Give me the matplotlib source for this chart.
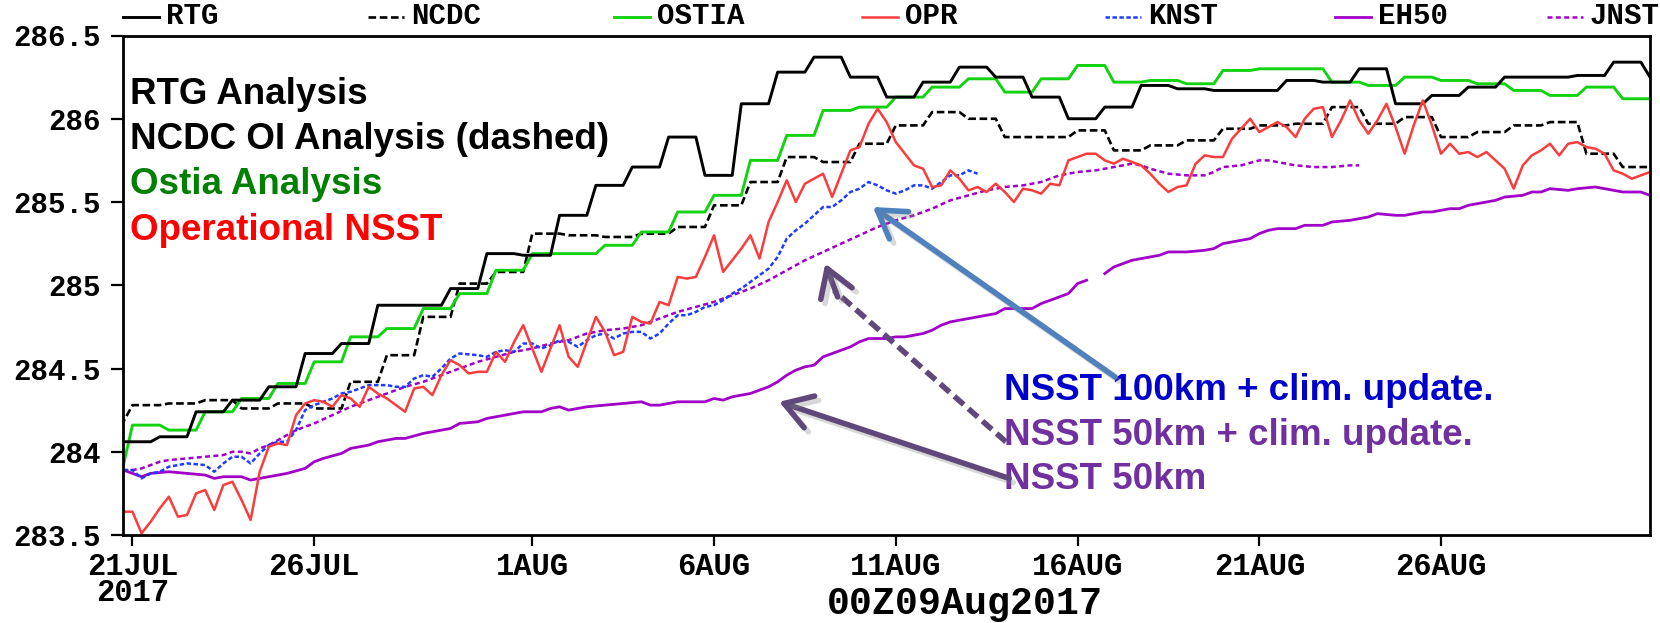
import numpy as np
import matplotlib
matplotlib.use("Agg")
import matplotlib.pyplot as plt
from matplotlib.lines import Line2D
import matplotlib.patheffects as pe

plt.rcParams["lines.scale_dashes"] = False

# ---- time axis: days since 21 Jul 2017 00Z (6-hourly output) ----
tick_days = [0, 5, 11, 16, 21, 26, 31, 36]
tick_labels = ["21JUL\n2017", "26JUL", "1AUG", "6AUG", "11AUG", "16AUG", "21AUG", "26AUG"]
y_ticks = [283.5, 284.0, 284.5, 285.0, 285.5, 286.0, 286.5]
y_tick_labels = ["283.5", "284", "284.5", "285", "285.5", "286", "286.5"]
valid_time = "00Z09Aug2017"

# ---- daily analyses (K) ----
rtg_days = np.arange(0, 43)
rtg = [284.06, 284.09, 284.24, 284.31, 284.39, 284.59, 284.65, 284.88, 284.88, 284.98,
       285.19, 285.18, 285.42, 285.60, 285.71, 285.89, 285.66, 286.09, 286.28, 286.37,
       286.25, 286.13, 286.22, 286.31, 286.25, 286.13, 286.00, 286.07, 286.20, 286.18,
       286.17, 286.17, 286.23, 286.22, 286.30, 286.09, 286.14, 286.19, 286.25, 286.25,
       286.26, 286.34, 286.25]

ncdc_days = np.arange(-1, 42)
ncdc = [284.18, 284.28, 284.29, 284.31, 284.26, 284.29, 284.26, 284.42, 284.58, 284.81,
        285.01, 285.08, 285.31, 285.30, 285.29, 285.31, 285.35, 285.48, 285.62, 285.77,
        285.74, 285.85, 285.96, 286.04, 286.00, 285.89, 285.89, 285.93, 285.81, 285.84,
        285.87, 285.94, 285.96, 285.97, 286.07, 285.97, 286.01, 285.89, 285.92, 285.96,
        285.98, 285.79, 285.71]

ostia_days = np.arange(-1, 42)
ostia = [283.92, 284.16, 284.13, 284.24, 284.32, 284.41, 284.54, 284.69, 284.74, 284.86,
         284.95, 285.09, 285.19, 285.19, 285.24, 285.32, 285.44, 285.54, 285.75, 285.90,
         286.05, 286.07, 286.13, 286.19, 286.24, 286.16, 286.24, 286.32, 286.22, 286.23,
         286.21, 286.29, 286.30, 286.30, 286.22, 286.20, 286.25, 286.23, 286.21, 286.17,
         286.14, 286.19, 286.12]

# ---- operational NSST, 6-hourly from 20 Jul 18Z ----
opr = [283.64, 283.64, 283.51, 283.58, 283.66, 283.73, 283.61, 283.62, 283.75, 283.77,
       283.65, 283.80, 283.82, 283.71, 283.59, 283.88, 284.03, 284.05, 284.04, 284.22,
       284.29, 284.31, 284.30, 284.27, 284.34, 284.32, 284.27, 284.39, 284.35, 284.32,
       284.28, 284.24, 284.38, 284.39, 284.34, 284.46, 284.55, 284.52, 284.47, 284.48,
       284.48, 284.60, 284.54, 284.66, 284.76, 284.62, 284.48, 284.62, 284.76, 284.57,
       284.51, 284.66, 284.81, 284.72, 284.58, 284.60, 284.81, 284.78, 284.77, 284.90,
       284.88, 285.05, 285.04, 285.05, 285.17, 285.30, 285.08, 285.15, 285.22, 285.30,
       285.16, 285.38, 285.50, 285.63, 285.50, 285.61, 285.64, 285.67, 285.53, 285.67,
       285.81, 285.83, 285.97, 286.06, 285.98, 285.86, 285.79, 285.72, 285.70, 285.59,
       285.60, 285.69, 285.64, 285.57, 285.59, 285.56, 285.61, 285.56, 285.50, 285.58,
       285.57, 285.55, 285.61, 285.60, 285.75, 285.77, 285.79, 285.79, 285.75, 285.73,
       285.76, 285.74, 285.72, 285.67, 285.61, 285.56, 285.59, 285.60, 285.73, 285.78,
       285.77, 285.77, 285.88, 285.94, 286.00, 285.92, 285.95, 285.98, 285.95, 285.89,
       286.00, 286.06, 286.07, 285.89, 285.99, 286.11, 285.99, 285.91, 285.99, 286.09,
       285.95, 285.79, 285.96, 286.11, 285.96, 285.79, 285.85, 285.79, 285.80, 285.77,
       285.80, 285.75, 285.70, 285.58, 285.72, 285.78, 285.81, 285.85, 285.78, 285.85,
       285.86, 285.83, 285.82, 285.79, 285.69, 285.67, 285.64, 285.66, 285.68]
opr_start = -0.25

# ---- NSST 100km + clim. update ----
knst_t = [-0.25, 0.0, 0.25, 0.5, 0.75, 1.0, 1.5, 2.0, 2.25, 2.5, 2.75, 3.0, 3.25, 3.5,
          3.75, 4.0, 4.25, 4.5, 4.75, 5.0, 5.25, 5.5, 5.75, 6.0, 6.5, 7.0, 7.25, 7.5,
          7.75, 8.0, 8.25, 8.5, 8.75, 9.0, 9.5, 9.75, 10.0, 10.25, 10.5, 10.75, 11.0,
          11.25, 11.5, 11.75, 12.0, 12.25, 12.5, 12.75, 13.0, 13.25, 13.5, 13.75, 14.0,
          14.25, 14.5, 14.75, 15.0, 15.25, 15.5, 15.75, 16.0, 16.25, 16.5, 16.75, 17.0,
          17.25, 17.5, 17.75, 18.0, 18.25, 18.5, 18.75, 19.0, 19.25, 19.5, 19.75, 20.0,
          20.25, 20.5, 20.75, 21.0, 21.25, 21.5, 21.75, 22.0, 22.25, 22.5, 22.75, 23.0,
          23.25]
knst = [283.89, 283.89, 283.84, 283.87, 283.88, 283.91, 283.93, 283.92, 283.88, 283.93,
        283.97, 283.97, 283.93, 283.99, 284.04, 284.06, 284.06, 284.13, 284.25, 284.28,
        284.30, 284.32, 284.35, 284.36, 284.40, 284.40, 284.39, 284.39, 284.44, 284.46,
        284.45, 284.50, 284.56, 284.59, 284.58, 284.57, 284.60, 284.61, 284.60, 284.65,
        284.65, 284.62, 284.64, 284.67, 284.66, 284.63, 284.67, 284.70, 284.71, 284.68,
        284.71, 284.72, 284.72, 284.68, 284.71, 284.77, 284.82, 284.82, 284.84, 284.87,
        284.88, 284.91, 284.95, 284.98, 285.02, 285.06, 285.10, 285.17, 285.28, 285.33,
        285.37, 285.42, 285.47, 285.47, 285.51, 285.56, 285.58, 285.62, 285.60, 285.57,
        285.55, 285.57, 285.60, 285.60, 285.58, 285.62, 285.66, 285.66, 285.69, 285.67]

# ---- NSST 50km ----
eh50_t = [-0.25, 0.25, 0.5, 1.0, 1.5, 2.0, 2.25, 2.5, 3.0, 3.25, 3.5, 4.0, 4.25, 4.75,
          5.0, 5.25, 5.75, 6.0, 6.5, 6.75, 7.25, 7.5, 8.0, 8.25, 8.75, 9.0, 9.5, 9.75,
          10.0, 10.5, 10.75, 11.25, 11.5, 11.75, 12.0, 12.25, 12.5, 13.0, 13.5, 14.0,
          14.25, 14.5, 14.75, 15.0, 15.5, 15.75, 16.0, 16.25, 16.5, 17.0, 17.25, 17.5,
          17.75, 18.0, 18.25, 18.5, 18.75, 19.0, 19.25, 19.5, 19.75, 20.0, 20.25, 20.5,
          20.75, 21.0, 21.25, 21.5, 21.75, 22.0, 22.25, 22.5, 22.75, 23.0, 23.25, 23.5,
          23.75, 24.0, 24.25, 24.5, 24.75, 25.0, 25.25, 25.5, 25.75, 26.0, 26.25, 26.5,
          26.75, 27.0, 27.25, 27.5, 27.75, 28.0, 28.25, 28.5, 29.0, 29.5, 29.75, 30.0,
          30.5, 30.75, 31.0, 31.25, 31.5, 32.0, 32.25, 32.75, 33.0, 33.5, 34.0, 34.25,
          34.75, 35.0, 35.5, 35.75, 36.25, 36.5, 36.75, 37.0, 37.5, 37.75, 38.25, 38.5,
          38.75, 39.0, 39.5, 39.75, 40.25, 40.5, 41.0, 41.5, 41.75]
eh50 = [283.89, 283.85, 283.87, 283.88, 283.87, 283.86, 283.84, 283.85, 283.85, 283.83,
        283.84, 283.86, 283.87, 283.90, 283.94, 283.96, 283.99, 284.02, 284.04, 284.06,
        284.08, 284.08, 284.11, 284.12, 284.14, 284.17, 284.18, 284.20, 284.21, 284.23,
        284.24, 284.24, 284.26, 284.27, 284.25, 284.26, 284.27, 284.28, 284.29, 284.30,
        284.28, 284.28, 284.29, 284.30, 284.30, 284.30, 284.32, 284.31, 284.33, 284.35,
        284.37, 284.39, 284.42, 284.46, 284.49, 284.51, 284.52, 284.57, 284.59, 284.61,
        284.63, 284.66, 284.68, 284.68, 284.68, 284.69, 284.69, 284.70, 284.71, 284.73,
        284.76, 284.78, 284.79, 284.80, 284.81, 284.82, 284.83, 284.86, 284.86, 284.86,
        284.86, 284.89, 284.91, 284.93, 284.95, 285.01, 285.03, np.nan, 285.07, 285.11,
        285.13, 285.15, 285.16, 285.17, 285.18, 285.20, 285.20, 285.21, 285.22, 285.25,
        285.27, 285.28, 285.31, 285.33, 285.34, 285.34, 285.36, 285.36, 285.38, 285.39,
        285.41, 285.43, 285.42, 285.42, 285.44, 285.44, 285.46, 285.46, 285.48, 285.49,
        285.51, 285.53, 285.54, 285.56, 285.56, 285.58, 285.57, 285.58, 285.59, 285.58,
        285.56, 285.56, 285.54]

# ---- NSST 50km + clim. update ----
jnst_t = [-0.25, 0.0, 0.25, 0.5, 0.75, 1.0, 1.5, 2.0, 2.5, 2.75, 3.0, 3.25, 3.5, 3.75,
          4.0, 4.25, 4.5, 4.75, 5.0, 5.5, 6.0, 6.5, 7.0, 7.5, 8.0, 8.5, 9.0, 9.5, 10.0,
          10.5, 11.0, 11.5, 12.0, 12.5, 13.0, 13.5, 14.0, 14.5, 15.0, 15.5, 16.0, 16.5,
          17.0, 17.5, 18.0, 18.5, 19.0, 19.5, 20.0, 20.5, 21.0, 21.5, 22.0, 22.5, 23.0,
          23.5, 24.0, 24.5, 25.0, 25.5, 26.0, 26.5, 27.0, 27.5, 27.75, 28.0, 28.5, 29.0,
          29.5, 29.75, 30.0, 30.5, 31.0, 31.25, 31.5, 32.0, 32.5, 33.0, 33.5, 33.75]
jnst = [283.89, 283.89, 283.90, 283.92, 283.94, 283.95, 283.96, 283.97, 283.98, 284.00,
        284.00, 283.99, 284.02, 284.04, 284.07, 284.10, 284.13, 284.15, 284.17, 284.22,
        284.27, 284.31, 284.35, 284.39, 284.42, 284.46, 284.50, 284.54, 284.57, 284.60,
        284.62, 284.65, 284.67, 284.71, 284.73, 284.74, 284.76, 284.80, 284.84, 284.87,
        284.90, 284.94, 284.98, 285.03, 285.09, 285.15, 285.20, 285.25, 285.30, 285.35,
        285.39, 285.42, 285.46, 285.51, 285.54, 285.57, 285.59, 285.60, 285.62, 285.66,
        285.68, 285.69, 285.71, 285.73, 285.72, 285.70, 285.67, 285.66, 285.66, 285.68,
        285.71, 285.72, 285.75, 285.75, 285.74, 285.72, 285.71, 285.71, 285.72, 285.72]

legend_names = ["RTG", "NCDC", "OSTIA", "OPR", "KNST", "EH50", "JNST"]


def daily_steps(days, vals, start):
    """Hold each daily analysis for 18 h, ramp to the next over 6 h."""
    days = np.asarray(days, dtype=float)
    x = np.column_stack([days + start, days + start + 0.75]).ravel()
    y = np.repeat(np.asarray(vals, dtype=float), 2)
    return x, y


W, H = 1660, 623
fig = plt.figure(figsize=(W / 100, H / 100), dpi=100)
ax = fig.add_axes([123.4 / W, 1 - 535 / H, (1650 - 123.4) / W, (535 - 35.5) / H])

C_GREEN = "#12D212"
C_RED = "#FA3C3C"
C_BLUE = "#1E3CFF"
C_PURP = "#A000C8"

styles = {
    "RTG": dict(color="black", lw=2.1, ls="-"),
    "NCDC": dict(color="black", lw=1.9, ls=(0, (5.5, 2.6))),
    "OSTIA": dict(color=C_GREEN, lw=2.1, ls="-"),
    "OPR": dict(color=C_RED, lw=1.8, ls="-"),
    "KNST": dict(color=C_BLUE, lw=1.8, ls=(0, (3.2, 1.8))),
    "EH50": dict(color=C_PURP, lw=2.0, ls="-"),
    "JNST": dict(color=C_PURP, lw=1.8, ls=(0, (3.6, 2.4))),
}

x, y = daily_steps(ncdc_days, ncdc, 0.0)
ax.plot(x, y, **styles["NCDC"])
x, y = daily_steps(ostia_days, ostia, 0.0)
ax.plot(x, y, **styles["OSTIA"])
x, y = daily_steps(rtg_days, rtg, -0.25)
ax.plot(x, y, **styles["RTG"])
ax.plot(eh50_t, eh50, **styles["EH50"])
ax.plot(jnst_t, jnst, **styles["JNST"])
ax.plot(knst_t, knst, **styles["KNST"])
opr_t = opr_start + 0.25 * np.arange(len(opr))
ax.plot(opr_t, opr, **styles["OPR"])

ax.set_xlim(-0.25, 41.75)
ax.set_ylim(283.5, 286.5)

mono = "Liberation Mono"
ax.set_xticks(tick_days)
ax.set_xticklabels(tick_labels, fontfamily=mono, fontsize=22, fontweight="bold")
for lbl in ax.get_xticklabels():
    lbl.set_linespacing(0.85)
ax.set_yticks(y_ticks)
ax.set_yticklabels(y_tick_labels, fontfamily=mono, fontsize=21, fontweight="bold")
ax.tick_params(axis="x", direction="out", length=8, width=1.6, pad=4)
ax.tick_params(axis="y", direction="out", length=9, width=1.6, pad=7)
for sp in ax.spines.values():
    sp.set_linewidth(2.0)

fig.text(964.5 / W, 1 - 604 / H, valid_time, fontfamily=mono, fontsize=27.5,
         fontweight="bold", ha="center", va="center")

# ---- legend row along the top ----
leg_x = [123, 368, 614, 862, 1105, 1335, 1547]
leg_y = 1 - 16.5 / H
for name, x0 in zip(legend_names, leg_x):
    st = styles[name]
    fig.add_artist(Line2D([x0 / W, (x0 + 36) / W], [leg_y, leg_y],
                          transform=fig.transFigure, color=st["color"],
                          lw=st["lw"], ls=st["ls"]))
    fig.text((x0 + 43) / W, leg_y, name, fontfamily=mono, fontsize=21,
             fontweight="bold", ha="left", va="center")

# ---- annotation text ----
sans = "Liberation Sans"
left_notes = [("RTG Analysis", "black"),
              ("NCDC OI Analysis (dashed)", "black"),
              ("Ostia Analysis", "#008000"),
              ("Operational NSST", "#FF0000")]
for i, (txt, col) in enumerate(left_notes):
    ax.text(-0.07, 286.09 - i * 0.272, txt, color=col, fontfamily=sans,
            fontweight="bold", fontsize=26.5, va="baseline", ha="left")

right_notes = [("NSST 100km + clim. update.", "#0000CC"),
               ("NSST 50km + clim. update.", "#7030A0"),
               ("NSST 50km", "#7030A0")]
for i, (txt, col) in enumerate(right_notes):
    ax.text(23.98, 284.31 - i * 0.268, txt, color=col, fontfamily=sans,
            fontweight="bold", fontsize=26.5, va="baseline", ha="left")

shadow = [pe.SimpleLineShadow(offset=(3, -3), shadow_color="0.5", alpha=0.3),
          pe.Normal()]
head = "->,head_length=0.8,head_width=0.5"
ARROW_LW = 4.0

# arrow to the 100 km run
ax.annotate("", xy=(20.37, 285.47), xytext=(27.03, 284.45),
            arrowprops=dict(arrowstyle=head, color="#4F81BD", lw=ARROW_LW,
                            mutation_scale=24, path_effects=shadow,
                            shrinkA=0, shrinkB=0))
# dashed arrow to the 50 km + clim. update run (dashed shaft, solid head)
ax.annotate("", xy=(19.3, 284.97), xytext=(24.03, 284.06),
            arrowprops=dict(arrowstyle="-", color="#5F497A", lw=ARROW_LW,
                            ls=(0, (9, 4.5)), capstyle="butt",
                            shrinkA=0, shrinkB=0))
ax.annotate("", xy=(19.06, 285.13), xytext=(19.4, 284.93),
            arrowprops=dict(arrowstyle=head, color="#5F497A", lw=ARROW_LW,
                            mutation_scale=24, path_effects=shadow,
                            shrinkA=0, shrinkB=0))
# arrow to the 50 km run
ax.annotate("", xy=(17.79, 284.30), xytext=(24.12, 283.84),
            arrowprops=dict(arrowstyle=head, color="#5F497A", lw=ARROW_LW,
                            mutation_scale=24, path_effects=shadow,
                            shrinkA=0, shrinkB=0))

fig.savefig("out.png", dpi=100)
